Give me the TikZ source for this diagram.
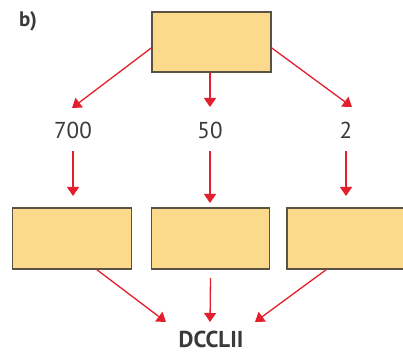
\documentclass[tikz,border=0pt]{standalone}
\usepackage{fontspec}
\setmainfont{PT Sans}
\usetikzlibrary{arrows.meta}
\definecolor{boxfill}{HTML}{FBDB8B}
\definecolor{boxline}{HTML}{5A5245}
\definecolor{arr}{HTML}{E31E2D}
\definecolor{txt}{HTML}{3A3A3A}
\begin{document}
\begin{tikzpicture}[x=1pt,y=-1pt,
  box/.style={draw=boxline,fill=boxfill,line width=1.6pt,inner sep=0pt},
  lbl/.style={text=txt,font=\fontsize{23}{23}\selectfont,inner sep=0pt},
  arrow/.style={draw=arr,line width=1.3pt,-{Triangle[length=9pt,width=12pt]}}]
\useasboundingbox (0,0) rectangle (403,352);
\node[text=txt,font=\bfseries\fontsize{21}{21}\selectfont,inner sep=0pt] (b) at (28,21) {b)};
\node[box,minimum width=119pt,minimum height=60pt] (top) at (211.5,42) {};
\node[lbl] (n700) at (73,130) {700};
\node[lbl] (n50) at (210,130) {50};
\node[lbl] (n2) at (346,130) {2};
\node[box,minimum width=119pt,minimum height=61pt] (b1) at (72,238.5) {};
\node[box,minimum width=118pt,minimum height=61pt] (b2) at (210.5,238.5) {};
\node[box,minimum width=117pt,minimum height=61pt] (b3) at (345.5,238.5) {};
\node[text=txt,font=\bfseries\fontsize{23}{23}\selectfont,inner sep=0pt] (res) at (211,339) {DCCLII};
\coordinate (t1) at (72,108);
\coordinate (t2) at (210,107);
\coordinate (t3) at (352,107);
\draw[arrow] (top.west |- 0,48) -- (t1);
\draw[arrow] (top.south -| 210,0) -- (t2);
\draw[arrow] (top.east |- 0,48) -- (t3);
\coordinate (v1) at (73,196);
\coordinate (v2) at (210,203);
\coordinate (v3) at (346,196);
\draw[arrow] (n700.south |- 0,151) -- (v1);
\draw[arrow] (n50.south |- 0,151) -- (v2);
\draw[arrow] (n2.south |- 0,151) -- (v3);
\coordinate (r1) at (166,322);
\coordinate (r2) at (210,322);
\coordinate (r3) at (255,322);
\draw[arrow] (b1.south -| 97,0) -- (r1);
\draw[arrow] (b2.south |- 0,278) -- (r2);
\draw[arrow] (b3.south -| 326,0) -- (r3);
\end{tikzpicture}
\end{document}
